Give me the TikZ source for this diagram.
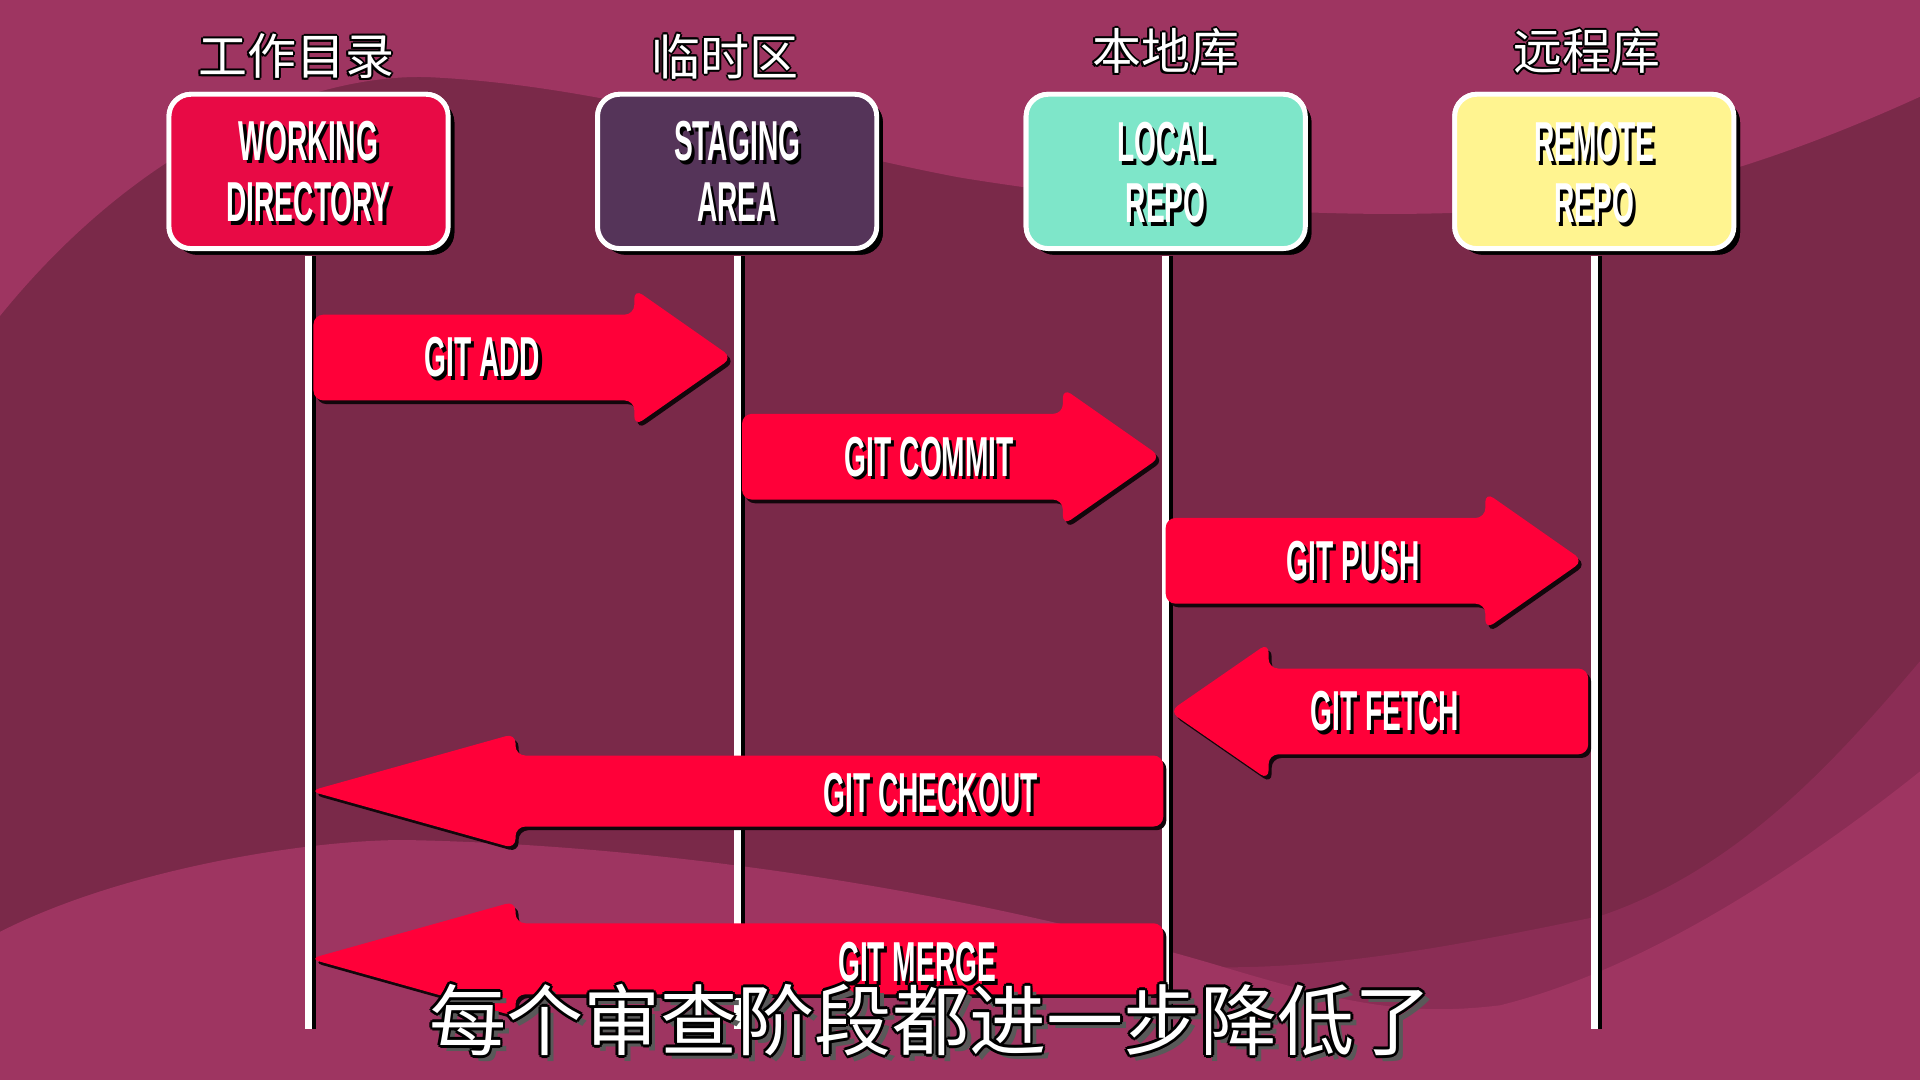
\documentclass[tikz,border=0pt]{standalone}
\usepackage{fontspec}
\newfontfamily\cjk{Noto Sans CJK SC}
\newfontfamily\condfont[FakeStretch=0.5]{Liberation Sans}
\usetikzlibrary{calc,shadows}
\definecolor{bgdark}{HTML}{7A2949}
\definecolor{bgmid}{HTML}{8B2D55}
\definecolor{bglight}{HTML}{9E3561}
\definecolor{arrred}{HTML}{FF0039}
\definecolor{wdred}{HTML}{E80A45}
\definecolor{stpurple}{HTML}{553459}
\definecolor{lcgreen}{HTML}{7EE6C9}
\definecolor{rmyellow}{HTML}{FFF490}
\tikzset{
  lanebox/.style={rounded corners=18pt, draw=white, line width=4pt,
    minimum width=228pt, minimum height=126pt, inner sep=0pt,
    drop shadow={fill=black, opacity=1, shadow xshift=5pt, shadow yshift=-5pt}},
  lbl/.style={inner sep=0pt, align=center},
  boxfont/.style={font=\condfont\bfseries\fontsize{46}{50}\selectfont},
  arrfont/.style={font=\condfont\bfseries\fontsize{46}{50}\selectfont},
  lifeline/.style={white, line width=5.5pt},
  lifeshadow/.style={black, line width=3pt}
}
\newcommand\shtext[5]{% name, x, y, style, text
  \node[lbl,#4,text=black] at ({#2+2.5},{#3+3}) {#5};
  \node[lbl,#4,text=white] (#1) at ({#2},{#3}) {#5};}
\newcommand\outtext[6]{% name, x, y, size, outline width, text
  \foreach \dx/\dy in {1/0,-1/0,0/1,0/-1,0.7/0.7,-0.7/0.7,0.7/-0.7,-0.7/-0.7}
    \node[lbl,text=black,font=\cjk\fontsize{#4}{#4}\selectfont] at ({#2+#5*\dx},{#3+#5*\dy}) {#6};
  \node[lbl,text=white,font=\cjk\fontsize{#4}{#4}\selectfont] (#1) at ({#2},{#3}) {#6};}
\newcommand\bigarrow[6]{% x0, xh, xt, yc, bh, hh
  \fill[black!85!bgdark, rounded corners=8pt, shift={(2.5,3)}]
    ({#1},{#4-#5}) -- ({#2},{#4-#5}) -- ({#2},{#4-#6}) -- ({#3},{#4}) --
    ({#2},{#4+#6}) -- ({#2},{#4+#5}) -- ({#1},{#4+#5}) -- cycle;
  \fill[arrred, rounded corners=8pt]
    ({#1},{#4-#5}) -- ({#2},{#4-#5}) -- ({#2},{#4-#6}) -- ({#3},{#4}) --
    ({#2},{#4+#6}) -- ({#2},{#4+#5}) -- ({#1},{#4+#5}) -- cycle;}
\begin{document}
\begin{tikzpicture}[x=1pt,y=-1pt]
% background
\fill[bgdark] (0,0) rectangle (1568,882);
\useasboundingbox (0,0) rectangle (1568,882);
\fill[bglight] (0,0) -- (1568,0) -- (1568,79)
  .. controls (1500,110) and (1400,150) .. (1300,165)
  .. controls (1150,185) and (950,172) .. (784,145)
  .. controls (650,120) and (500,70) .. (350,63)
  .. controls (260,60) and (120,110) .. (0,258) -- cycle;
\fill[bgmid] (980,882) -- (1000,790)
  .. controls (1100,790) and (1200,770) .. (1307,748)
  .. controls (1420,710) and (1500,620) .. (1568,540) -- (1568,882) -- cycle;
\fill[bglight] (0,761) .. controls (100,710) and (250,686) .. (330,686)
  .. controls (550,690) and (800,730) .. (1000,790)
  .. controls (1100,820) and (1150,830) .. (1225,821)
  .. controls (1350,790) and (1480,700) .. (1568,630)
  -- (1568,882) -- (0,882) -- cycle;

% lane boxes
\node[lanebox, fill=wdred]    (wd) at (252,140) {};
\node[lanebox, fill=stpurple] (st) at (602,140) {};
\node[lanebox, fill=lcgreen]  (lc) at (952,140) {};
\node[lanebox, fill=rmyellow] (rm) at (1302,140) {};

% lifelines
\coordinate (wdend) at (252,840);
\coordinate (stend) at (602,840);
\coordinate (lcend) at (952,840);
\coordinate (rmend) at (1302,840);
\foreach \n in {wd,st,lc,rm}{
  \draw[lifeshadow] ([xshift=4.5pt,yshift=-4pt]\n.south) -- ([xshift=4.5pt]\n end);
  \draw[lifeline] ([yshift=-4pt]\n.south) -- (\n end);
}
% redraw boxes over line tops
\node[lanebox, fill=wdred]    at (252,140) {};
\node[lanebox, fill=stpurple] at (602,140) {};
\node[lanebox, fill=lcgreen]  at (952,140) {};
\node[lanebox, fill=rmyellow] at (1302,140) {};

% box labels
\shtext{wdl}{252}{140}{boxfont}{WORKING\\DIRECTORY}
\shtext{stl}{602}{140}{boxfont}{STAGING\\AREA}
\shtext{lcl}{952}{141}{boxfont}{LOCAL\\REPO}
\shtext{rml}{1302}{141}{boxfont}{REMOTE\\REPO}

% titles
\outtext{wdt}{242}{46}{40}{1.6}{工作目录}
\outtext{stt}{592}{46}{40}{1.6}{临时区}
\outtext{lct}{952}{42}{40}{1.6}{本地库}
\outtext{rmt}{1296}{42}{40}{1.6}{远程库}

% arrows
\bigarrow{256}{518}{598}{292}{35}{56}
\bigarrow{606}{868}{948}{373}{35}{56}
\bigarrow{952}{1213}{1293}{458}{35}{56}
\bigarrow{1297}{1036}{955}{581}{35}{56}
\bigarrow{950}{421}{253}{646}{29}{47}
\bigarrow{950}{421}{253}{783}{29}{47}

\shtext{add}{394}{292}{arrfont}{GIT ADD}
\shtext{commit}{759}{373}{arrfont}{GIT COMMIT}
\shtext{push}{1105}{458}{arrfont}{GIT PUSH}
\shtext{fetch}{1131}{581}{arrfont}{GIT FETCH}
\shtext{checkout}{760}{648}{arrfont}{GIT CHECKOUT}
\shtext{merge}{749}{786}{arrfont}{GIT MERGE}

% subtitle
\node[lbl,text=black!65,font=\cjk\fontsize{63}{63}\selectfont] at (765,838) {每个审查阶段都进一步降低了};
\outtext{sub}{760}{833}{63}{2.2}{每个审查阶段都进一步降低了}
\end{tikzpicture}
\end{document}
